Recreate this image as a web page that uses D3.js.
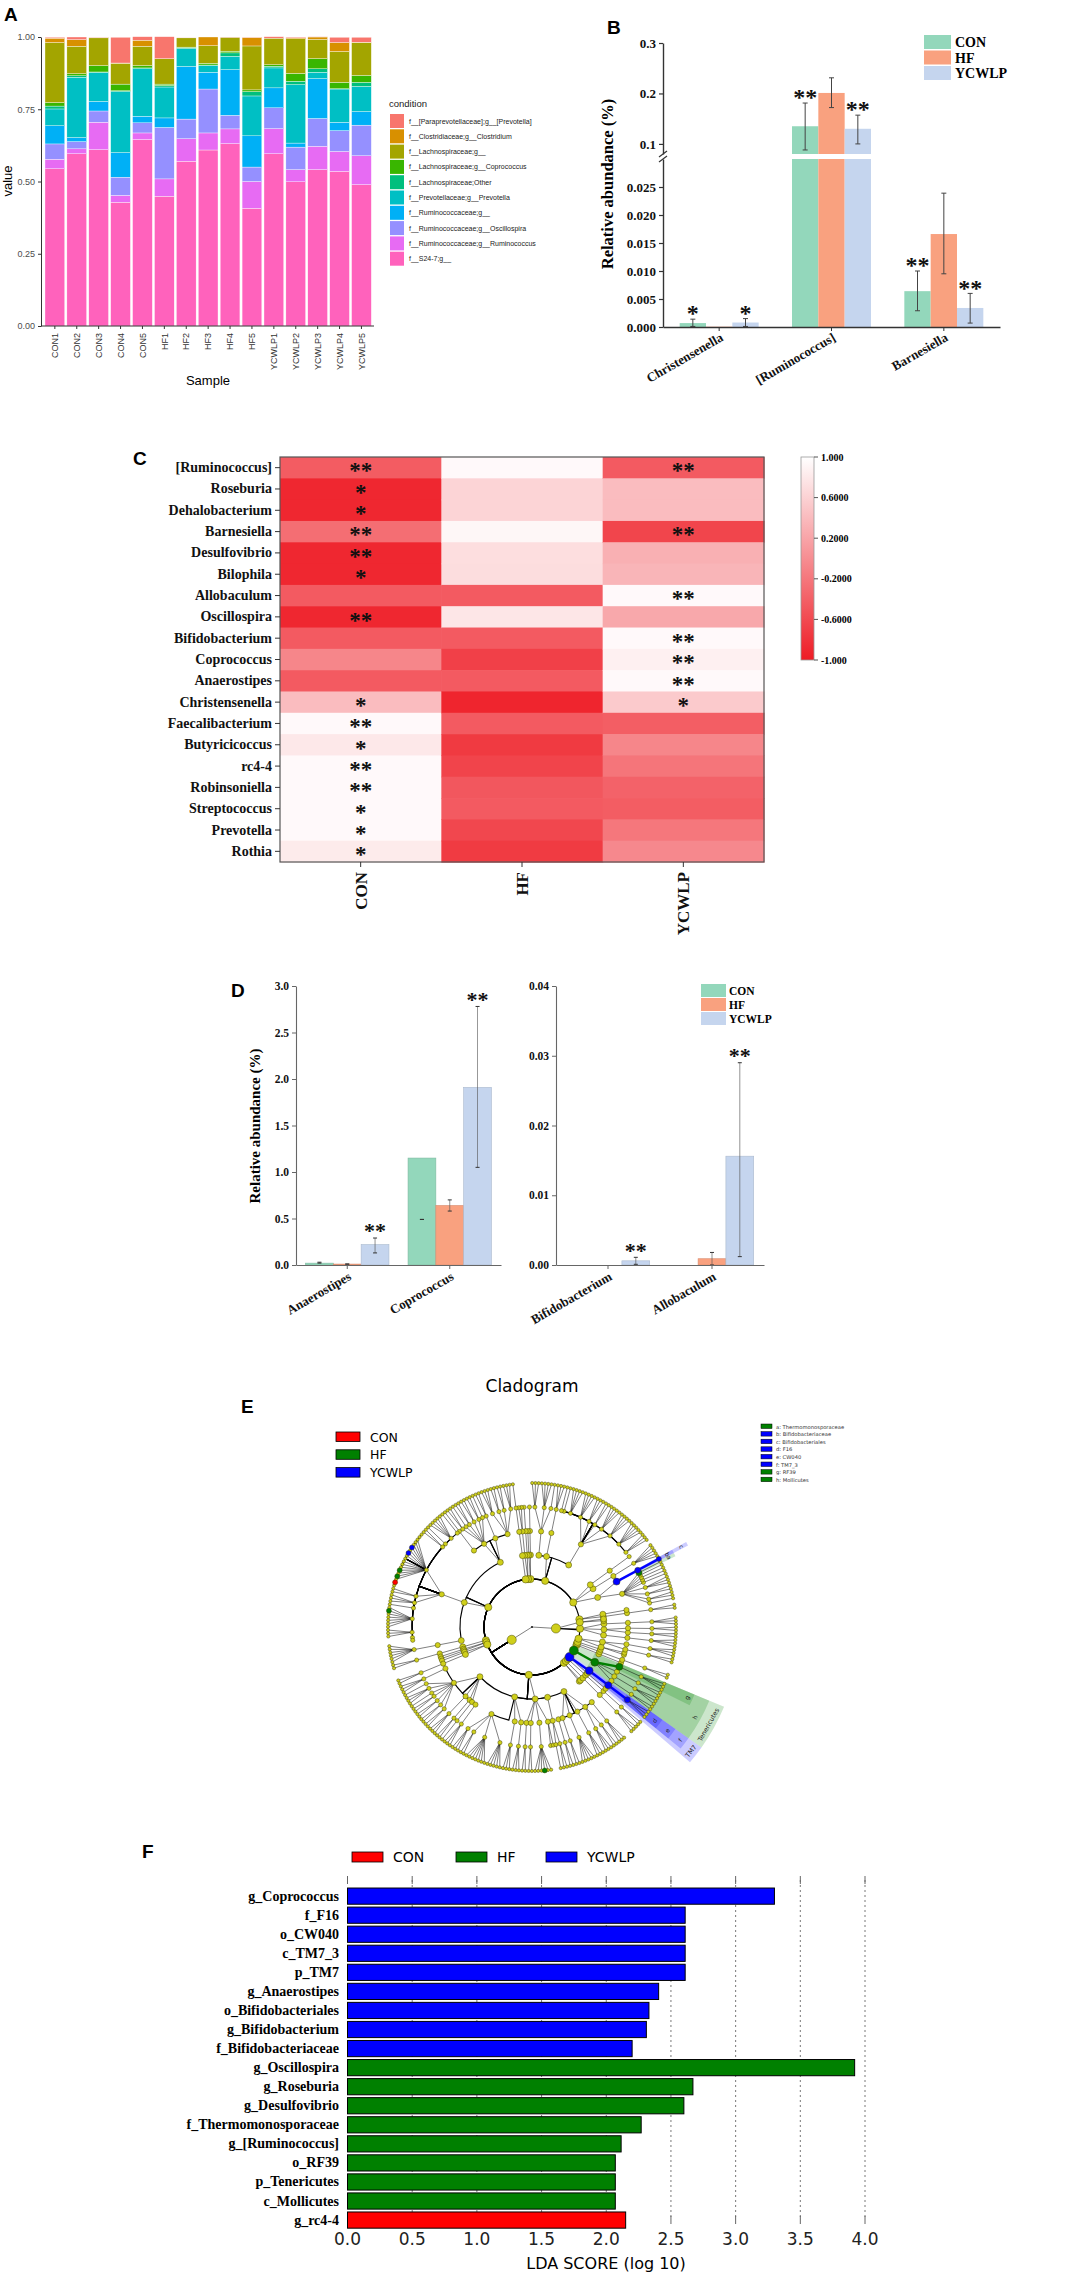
<!DOCTYPE html>
<html>
<head>
<meta charset="utf-8">
<script src="https://cdn.jsdelivr.net/npm/d3@7/dist/d3.min.js"></script>
<style>
html,body{margin:0;padding:0;background:#fff;}
svg{display:block;}
</style>
</head>
<body>
<svg id="fig" width="1069" height="2273" xmlns="http://www.w3.org/2000/svg"></svg>
<script>
// ================= DATA =================
// ---- Panel A: stacked relative abundance ----
const samplesA = ["CON1","CON2","CON3","CON4","CON5","HF1","HF2","HF3","HF4","HF5","YCWLP1","YCWLP2","YCWLP3","YCWLP4","YCWLP5"];
const taxaA = ["f__[Paraprevotellaceae];g__[Prevotella]","f__Clostridiaceae;g__Clostridium","f__Lachnospiraceae;g__","f__Lachnospiraceae;g__Coprococcus","f__Lachnospiraceae;Other","f__Prevotellaceae;g__Prevotella","f__Ruminococcaceae;g__","f__Ruminococcaceae;g__Oscillospira","f__Ruminococcaceae;g__Ruminococcus","f__S24-7;g__"];
const taxaColorsA = ["#F8766D","#D89000","#A3A500","#39B600","#00BF7D","#00BFC4","#00B0F6","#9590FF","#E76BF3","#FF62BC"];
const paraprevotellaA = [0.003,0.009,0.001,0.089,0.012,0.076,0.001,0.000,0.001,0.001,0.005,0.003,0.001,0.018,0.017];
const clostridiumA    = [0.015,0.023,0.001,0.001,0.021,0.000,0.000,0.030,0.000,0.029,0.000,0.003,0.008,0.031,0.001];
const lachnoGA        = [0.208,0.095,0.096,0.072,0.067,0.088,0.032,0.061,0.048,0.152,0.092,0.120,0.067,0.107,0.114];
const coprococcusA    = [0.012,0.007,0.022,0.023,0.008,0.005,0.002,0.006,0.006,0.006,0.005,0.027,0.035,0.022,0.024];
const lachnoOtherA    = [0.010,0.005,0.002,0.003,0.003,0.005,0.003,0.002,0.012,0.015,0.006,0.012,0.012,0.001,0.014];
const prevotellaA     = [0.058,0.209,0.100,0.211,0.164,0.107,0.062,0.023,0.046,0.138,0.069,0.202,0.022,0.115,0.087];
const ruminoGA        = [0.063,0.014,0.033,0.085,0.023,0.033,0.182,0.058,0.158,0.108,0.069,0.014,0.138,0.029,0.047];
const oscillospiraA   = [0.053,0.025,0.039,0.063,0.035,0.178,0.068,0.152,0.047,0.050,0.072,0.078,0.096,0.072,0.106];
const ruminococcusA   = [0.033,0.017,0.095,0.024,0.023,0.060,0.078,0.059,0.051,0.093,0.087,0.042,0.081,0.069,0.100];
const s247A           = [0.544,0.596,0.610,0.428,0.645,0.449,0.570,0.609,0.631,0.407,0.596,0.499,0.541,0.535,0.489];
const seriesA = [paraprevotellaA, clostridiumA, lachnoGA, coprococcusA, lachnoOtherA, prevotellaA, ruminoGA, oscillospiraA, ruminococcusA, s247A];
const ticksA = [0, 0.25, 0.5, 0.75, 1];

// ---- shared groups ----
const groups = ["CON","HF","YCWLP"];
const groupColors = ["#93d7bb","#f9a17f","#c5d5ee"];

// ---- Panel B ----
const generaB = ["Christensenella","[Ruminococcus]","Barnesiella"];
const meanB_CON = [0.0007, 0.135, 0.0064];
const meanB_HF  = [0.00005, 0.201, 0.0166];
const meanB_YC  = [0.0008, 0.130, 0.0034];
const lowB_CON  = [0.0001, 0.088, 0.0029];
const highB_CON = [0.0014, 0.181, 0.0100];
const lowB_HF   = [0, 0.172, 0.0095];
const highB_HF  = [0, 0.231, 0.0239];
const lowB_YC   = [0.0001, 0.100, 0.0007];
const highB_YC  = [0.0015, 0.157, 0.0060];
const starsB_CON = ["*","**","**"];
const starsB_YC  = ["*","**","**"];
const ticksBlow  = [0, 0.005, 0.010, 0.015, 0.020, 0.025];
const ticksBhigh = [0.1, 0.2, 0.3];

// ---- Panel C: correlation heatmap ----
const rowsC = ["[Ruminococcus]","Roseburia","Dehalobacterium","Barnesiella","Desulfovibrio","Bilophila","Allobaculum","Oscillospira","Bifidobacterium","Coprococcus","Anaerostipes","Christensenella","Faecalibacterium","Butyricicoccus","rc4-4","Robinsoniella","Streptococcus","Prevotella","Rothia"];
const heatCON = [-0.44,-0.90,-0.90,-0.28,-0.90,-0.90,-0.45,-0.90,-0.45,-0.07,-0.45, 0.41, 0.95, 0.80, 0.95, 0.95, 0.95, 0.95, 0.82];
const heatHF  = [ 0.95, 0.62, 0.62, 0.93, 0.71, 0.70,-0.45, 0.78,-0.45,-0.68,-0.45,-0.92,-0.45,-0.74,-0.65,-0.48,-0.45,-0.62,-0.73];
const heatYC  = [-0.45, 0.41, 0.41,-0.64, 0.30, 0.35, 0.95, 0.23, 0.95, 0.87, 0.95, 0.53,-0.42,-0.07,-0.22,-0.38,-0.43,-0.20,-0.05];
const starsC_CON = ["**","*","*","**","**","*","","**","","","","*","**","*","**","**","*","*","*"];
const starsC_YC  = ["**","","","**","","","**","","**","**","**","*","","","","","","",""];
const legendTicksC = [1, 0.6, 0.2, -0.2, -0.6, -1];
const legendLabelsC = ["1.000","0.6000","0.2000","-0.2000","-0.6000","-1.000"];

// ---- Panel D ----
const generaDL = ["Anaerostipes","Coprococcus"];
const meanDL_CON = [0.02, 1.15];
const meanDL_HF  = [0.01, 0.64];
const meanDL_YC  = [0.22, 1.91];
const lowDL_CON  = [0.02, 0.49];
const highDL_CON = [0.03, 0.49];
const lowDL_HF   = [0.01, 0.58];
const highDL_HF  = [0.01, 0.70];
const lowDL_YC   = [0.13, 1.05];
const highDL_YC  = [0.29, 2.78];
const starsDL_YC = ["**","**"];
const ticksDL = [0, 0.5, 1.0, 1.5, 2.0, 2.5, 3.0];

const generaDR = ["Bifidobacterium","Allobaculum"];
const meanDR_CON = [0, 0];
const meanDR_HF  = [0, 0.0009];
const meanDR_YC  = [0.0006, 0.0156];
const lowDR_CON  = [0, 0];
const highDR_CON = [0, 0];
const lowDR_HF   = [0, 0];
const highDR_HF  = [0, 0.0018];
const lowDR_YC   = [0.0001, 0.0012];
const highDR_YC  = [0.0011, 0.029];
const starsDR_YC = ["**","**"];
const ticksDR = [0, 0.01, 0.02, 0.03, 0.04];

// ---- Panel F: LEfSe LDA ----
const ldaLabels = ["g_Coprococcus","f_F16","o_CW040","c_TM7_3","p_TM7","g_Anaerostipes","o_Bifidobacteriales","g_Bifidobacterium","f_Bifidobacteriaceae","g_Oscillospira","g_Roseburia","g_Desulfovibrio","f_Thermomonosporaceae","g_[Ruminococcus]","o_RF39","p_Tenericutes","c_Mollicutes","g_rc4-4"];
const ldaScores = [3.30, 2.61, 2.61, 2.61, 2.61, 2.405, 2.33, 2.31, 2.20, 3.92, 2.67, 2.60, 2.27, 2.115, 2.07, 2.07, 2.07, 2.15];
const ldaGroups = ["YCWLP","YCWLP","YCWLP","YCWLP","YCWLP","YCWLP","YCWLP","YCWLP","YCWLP","HF","HF","HF","HF","HF","HF","HF","HF","CON"];
const ldaTicks = [0, 0.5, 1.0, 1.5, 2.0, 2.5, 3.0, 3.5, 4.0];
const lefseColors = {CON: "#ff0000", HF: "#008000", YCWLP: "#0000ff"};

// ---- Panel E: cladogram taxonomy (number = count of unnamed child taxa) ----
const pAcidobacteria = ["p__Acidobacteria", [
  ["c__Acidobacteriia", [["o__Acidobacteriales", [["f__Koribacteraceae", 2]]]]],
  ["c__Solibacteres", 1]
]];
const pActinobacteria = ["p__Actinobacteria", [
  ["c__Actinobacteria", [
    ["o__Actinomycetales", [
      ["f__Actinomycetaceae", 1], ["f__Corynebacteriaceae", 2], ["f__Microbacteriaceae", 2],
      ["f__Micrococcaceae", 3], ["f__Nocardioidaceae", 1], ["f__Propionibacteriaceae", 1],
      ["f__Pseudonocardiaceae", 1], ["f__Streptomycetaceae", 1], ["f__Thermomonosporaceae", 1]
    ]],
    ["o__Bifidobacteriales", [["f__Bifidobacteriaceae", ["g__Bifidobacterium"]]]]
  ]],
  ["c__Coriobacteriia", [["o__Coriobacteriales", [["f__Coriobacteriaceae", 5]]]]],
  ["c__Thermoleophilia", [["o__Solirubrobacterales", 1]]]
]];
const pBacteroidetes = ["p__Bacteroidetes", [
  ["c__Bacteroidia", [["o__Bacteroidales", [
    ["f__Bacteroidaceae", 3], ["f__Porphyromonadaceae", 5], ["f__Prevotellaceae", 4], ["f__Rikenellaceae", 4],
    ["f__S24-7", 2], ["f__[Barnesiellaceae]", 3], ["f__[Odoribacteraceae]", 4], ["f__[Paraprevotellaceae]", 4],
    ["f__RF16", 1], ["f__BS11", 1]
  ]]]],
  ["c__Cytophagia", [["o__Cytophagales", [["f__Cytophagaceae", 3]]]]],
  ["c__Flavobacteriia", [["o__Flavobacteriales", [["f__Cryomorphaceae", 1], ["f__Flavobacteriaceae", 4], ["f__[Weeksellaceae]", 3]]]]]
]];
const pChloroflexi = ["p__Chloroflexi", [["c__Anaerolineae", [["o__Anaerolineales", 1]]], ["c__Thermomicrobia", 1]]];
const pCyanobacteria = ["p__Cyanobacteria", [["c__4C0d-2", [["o__YS2", 1]]], ["c__Chloroplast", [["o__Streptophyta", 2]]]]];
const pDeferribacteres = ["p__Deferribacteres", [["c__Deferribacteres", [["o__Deferribacterales", [["f__Deferribacteraceae", 1]]]]]]];
const pFirmicutes = ["p__Firmicutes", [
  ["c__Bacilli", [
    ["o__Bacillales", [["f__Bacillaceae", 3], ["f__Paenibacillaceae", 2], ["f__Planococcaceae", 2], ["f__Staphylococcaceae", 3]]],
    ["o__Gemellales", [["f__Gemellaceae", 2]]],
    ["o__Lactobacillales", [["f__Aerococcaceae", 1], ["f__Carnobacteriaceae", 2], ["f__Enterococcaceae", 2], ["f__Lactobacillaceae", 2], ["f__Leuconostocaceae", 1], ["f__Streptococcaceae", 2]]],
    ["o__Turicibacterales", [["f__Turicibacteraceae", 1]]]
  ]],
  ["c__Clostridia", [["o__Clostridiales", [
    ["f__Christensenellaceae", 1], ["f__Clostridiaceae", 5], ["f__Dehalobacteriaceae", 1], ["f__Eubacteriaceae", 2],
    ["f__Lachnospiraceae", [5, "g__Anaerostipes", 1, "g__Coprococcus", 5, "g__Roseburia", 1, "g__[Ruminococcus]", 1, "g__rc4-4", 1]],
    ["f__Mogibacteriaceae", 2], ["f__Peptococcaceae", 3], ["f__Peptostreptococcaceae", 1],
    ["f__Ruminococcaceae", [1, "g__Oscillospira", 5]],
    ["f__Veillonellaceae", 3], 2
  ]]]],
  ["c__Erysipelotrichi", [["o__Erysipelotrichales", [["f__Erysipelotrichaceae", 6]]]]]
]];
const pFusobacteria = ["p__Fusobacteria", [["c__Fusobacteriia", [["o__Fusobacteriales", [["f__Fusobacteriaceae", 2]]]]]]];
const pGemmatimonadetes = ["p__Gemmatimonadetes", [["c__Gemm-1", 1], ["c__Gemmatimonadetes", 1]]];
const pPlanctomycetes = ["p__Planctomycetes", [["c__Phycisphaerae", 1], ["c__Planctomycetia", [["o__Pirellulales", [["f__Pirellulaceae", 2]]]]]]];
const pProteobacteria = ["p__Proteobacteria", [
  ["c__Alphaproteobacteria", [
    ["o__Caulobacterales", [["f__Caulobacteraceae", 3]]],
    ["o__Rhizobiales", [["f__Aurantimonadaceae", 1], ["f__Bradyrhizobiaceae", 3], ["f__Brucellaceae", 1], ["f__Hyphomicrobiaceae", 2], ["f__Methylobacteriaceae", 2], ["f__Phyllobacteriaceae", 2], ["f__Rhizobiaceae", 2]]],
    ["o__Rhodobacterales", [["f__Rhodobacteraceae", 3]]],
    ["o__Rhodospirillales", [["f__Acetobacteraceae", 2]]],
    ["o__Rickettsiales", [["f__mitochondria", 1]]],
    ["o__Sphingomonadales", [["f__Sphingomonadaceae", 3]]]
  ]],
  ["c__Betaproteobacteria", [
    ["o__Burkholderiales", [["f__Alcaligenaceae", 3], ["f__Burkholderiaceae", 2], ["f__Comamonadaceae", 7], ["f__Oxalobacteraceae", 5]]],
    ["o__Neisseriales", [["f__Neisseriaceae", 3]]],
    ["o__Rhodocyclales", [["f__Rhodocyclaceae", 3]]]
  ]],
  ["c__Deltaproteobacteria", [
    ["o__Bdellovibrionales", [["f__Bdellovibrionaceae", 2]]],
    ["o__Desulfobacterales", [["f__Desulfobulbaceae", 2]]],
    ["o__Desulfovibrionales", [["f__Desulfovibrionaceae", [3, "g__Desulfovibrio", 2]]]],
    ["o__Myxococcales", 2]
  ]],
  ["c__Epsilonproteobacteria", [["o__Campylobacterales", [["f__Campylobacteraceae", 1], ["f__Helicobacteraceae", 2]]]]],
  ["c__Gammaproteobacteria", [
    ["o__Aeromonadales", [["f__Aeromonadaceae", 2]]],
    ["o__Alteromonadales", [["f__Shewanellaceae", 2]]],
    ["o__Enterobacteriales", [["f__Enterobacteriaceae", 5]]],
    ["o__Pasteurellales", [["f__Pasteurellaceae", 3]]],
    ["o__Pseudomonadales", [["f__Moraxellaceae", 3], ["f__Pseudomonadaceae", 2]]],
    ["o__Xanthomonadales", [["f__Xanthomonadaceae", 3]]]
  ]]
]];
const pSR1 = ["p__SR1", 2];
const pSpirochaetes = ["p__Spirochaetes", [["c__Spirochaetes", [["o__Spirochaetales", [["f__Spirochaetaceae", 3]]]]]]];
const pSynergistetes = ["p__Synergistetes", [["c__Synergistia", [["o__Synergistales", [["f__Synergistaceae", 2]]]]]]];
const pTM7 = ["p__TM7", [["c__TM7-1", 1], ["c__TM7_3", [["o__CW040", [["f__F16", 3]]]]]]];
const pTenericutes = ["p__Tenericutes", [["c__Mollicutes", [
  ["o__Acholeplasmatales", [["f__Acholeplasmataceae", 2]]],
  ["o__Anaeroplasmatales", [["f__Anaeroplasmataceae", 3]]],
  ["o__Mycoplasmatales", [["f__Mycoplasmataceae", 2]]],
  ["o__RF39", [["f__", 3]]]
]]]];
const pThermi = ["p__Thermi", [["c__Deinococci", 1]]];
const pVerrucomicrobia = ["p__Verrucomicrobia", [["c__Verrucomicrobiae", [["o__Verrucomicrobiales", [["f__Verrucomicrobiaceae", 2]]]]]]];
const pWPS2 = ["p__WPS-2", 1];
const kArchaea = ["k__Archaea", [
  ["p__Crenarchaeota", [["c__MCG", 2], ["c__Thaumarchaeota", [["o__Cenarchaeales", [["f__Cenarchaeaceae", 2]]], ["o__Nitrososphaerales", [["f__Nitrososphaeraceae", 3]]]]]]],
  ["p__Euryarchaeota", [
    ["c__Methanobacteria", [["o__Methanobacteriales", [["f__Methanobacteriaceae", 3]]]]],
    ["c__Methanomicrobia", [["o__Methanomicrobiales", [["f__Methanoregulaceae", 2]]], ["o__Methanosarcinales", [["f__Methanosarcinaceae", 2]]]]],
    ["c__Thermoplasmata", [["o__E2", [["f__", 3]]]]]
  ]],
  ["p__[Parvarchaeota]", 2]
]];
const kBacteria = ["k__Bacteria", [pAcidobacteria, pActinobacteria, pBacteroidetes, pChloroflexi, pCyanobacteria, pDeferribacteres, pFirmicutes, pFusobacteria, pGemmatimonadetes, pPlanctomycetes, pProteobacteria, pSR1, pSpirochaetes, pSynergistetes, pTM7, pTenericutes, pThermi, pVerrucomicrobia, pWPS2]];
const cladeTree = ["Root", [kBacteria, kArchaea]];
const cladeKeyLetters = ["a","b","c","d","e","f","g","h"];
const cladeKeyTaxa = ["f__Thermomonosporaceae","f__Bifidobacteriaceae","o__Bifidobacteriales","f__F16","o__CW040","c__TM7_3","o__RF39","c__Mollicutes"];
const cladeKeyNames = ["Thermomonosporaceae","Bifidobacteriaceae","Bifidobacteriales","F16","CW040","TM7_3","RF39","Mollicutes"];

// ================= DRAWING =================
const svg = d3.select("#fig");
const SERIF = "'Liberation Serif','Times New Roman',serif";
const SANS = "'Liberation Sans',Arial,sans-serif";
const DJ = "'DejaVu Sans',sans-serif";

function panelLabel(t, x, y) {
  svg.append("text").attr("x", x).attr("y", y).attr("font-family", SANS)
    .attr("font-weight", "bold").attr("font-size", 19).attr("fill", "#000").text(t);
}
function star(g, x, yc, txt, fs) {
  if (!txt) return;
  g.append("text").attr("x", x).attr("y", yc + fs * 0.47).attr("text-anchor", "middle")
    .attr("font-family", SERIF).attr("font-weight", "bold").attr("font-size", fs).attr("fill", "#111").text(txt);
}

// ---------- Panel A ----------
(function () {
  const g = svg.append("g");
  const x = d3.scaleBand().domain(samplesA).range([43.9, 372.4]).paddingInner(0.1).paddingOuter(0.05);
  const y = d3.scaleLinear().domain([0, 1]).range([326, 37]);
  const rows = samplesA.map((s, i) => {
    const o = {sample: s};
    taxaA.forEach((t, k) => { o[t] = seriesA[k][i]; });
    return o;
  });
  const keys = taxaA.slice().reverse();
  const stack = d3.stack().keys(keys)(rows);
  const color = d3.scaleOrdinal().domain(taxaA).range(taxaColorsA);
  g.selectAll("g.layer").data(stack).enter().append("g").attr("fill", d => color(d.key))
    .selectAll("rect").data(d => d).enter().append("rect")
    .attr("x", d => x(d.data.sample)).attr("width", x.bandwidth())
    .attr("y", d => y(d[1])).attr("height", d => Math.max(0, y(d[0]) - y(d[1])))
    .attr("stroke", "#fff").attr("stroke-width", 0.35);
  const ax = g.append("g").attr("transform", "translate(41,0)")
    .call(d3.axisLeft(y).tickValues(ticksA).tickFormat(d3.format(".2f")).tickSize(3).tickSizeOuter(0));
  ax.select(".domain").attr("stroke", "#333").attr("stroke-width", 1);
  ax.selectAll(".tick line").attr("stroke", "#333");
  ax.selectAll("text").attr("font-family", SANS).attr("font-size", 9).attr("fill", "#4d4d4d");
  const bx = g.append("g").attr("transform", "translate(0,326)")
    .call(d3.axisBottom(x).tickSize(3).tickSizeOuter(0));
  bx.select(".domain").attr("stroke", "#333");
  bx.select(".domain").attr("d", "M41,0H374");
  bx.selectAll(".tick line").attr("stroke", "#333");
  bx.selectAll("text").attr("font-family", SANS).attr("font-size", 9).attr("fill", "#333")
    .attr("text-anchor", "end").attr("dy", null).attr("y", 0)
    .attr("transform", "translate(3.2,7) rotate(-90)");
  g.append("text").attr("x", 208).attr("y", 385).attr("text-anchor", "middle")
    .attr("font-family", SANS).attr("font-size", 13).text("Sample");
  g.append("text").attr("transform", "translate(12,181) rotate(-90)").attr("text-anchor", "middle")
    .attr("font-family", SANS).attr("font-size", 13).text("value");
  // legend
  g.append("text").attr("x", 389).attr("y", 107).attr("font-family", SANS).attr("font-size", 9.5).attr("fill", "#222").text("condition");
  const lg = g.selectAll("g.lgA").data(taxaA).enter().append("g")
    .attr("transform", (d, i) => `translate(390,${114 + i * 15.3})`);
  lg.append("rect").attr("width", 14).attr("height", 14).attr("fill", d => color(d));
  lg.append("text").attr("x", 19).attr("y", 9.5).attr("font-family", SANS).attr("font-size", 7).attr("fill", "#222").text(d => d);
  panelLabel("A", 4, 21);
})();

// ---------- Panel B ----------
(function () {
  const g = svg.append("g");
  const x = d3.scaleBand().domain(generaB).range([663, 1000]);
  const xi = d3.scaleBand().domain(groups).range([-39.5, 39.5]);
  const yLow = d3.scaleLinear().domain([0, 0.03]).range([327, 159]);
  const yHigh = d3.scaleLinear().domain([0.08, 0.3]).range([154, 43]);
  const yB = v => v <= 0.03 ? yLow(v) : yHigh(v);
  const means = [meanB_CON, meanB_HF, meanB_YC];
  const lows = [lowB_CON, lowB_HF, lowB_YC];
  const highs = [highB_CON, highB_HF, highB_YC];
  groups.forEach((grp, k) => {
    generaB.forEach((gen, i) => {
      const v = means[k][i];
      const bx = x(gen) + x.bandwidth() / 2 + xi(grp);
      if (v <= 0.03) {
        g.append("rect").attr("x", bx).attr("width", xi.bandwidth()).attr("y", yLow(v)).attr("height", 327 - yLow(v)).attr("fill", groupColors[k]);
      } else {
        g.append("rect").attr("x", bx).attr("width", xi.bandwidth()).attr("y", yLow(0.03)).attr("height", 327 - yLow(0.03)).attr("fill", groupColors[k]);
        g.append("rect").attr("x", bx).attr("width", xi.bandwidth()).attr("y", yHigh(v)).attr("height", yHigh(0.08) - yHigh(v)).attr("fill", groupColors[k]);
      }
    });
  });
  groups.forEach((grp, k) => {
    generaB.forEach((gen, i) => {
      const lo = lows[k][i], hi = highs[k][i];
      if (hi <= 0) return;
      const cx = x(gen) + x.bandwidth() / 2 + xi(grp) + xi.bandwidth() / 2;
      g.append("line").attr("x1", cx).attr("x2", cx).attr("y1", yB(lo)).attr("y2", yB(hi)).attr("stroke", "#444").attr("stroke-width", 1);
      [lo, hi].forEach(v => g.append("line").attr("x1", cx - 2.5).attr("x2", cx + 2.5).attr("y1", yB(v)).attr("y2", yB(v)).attr("stroke", "#444").attr("stroke-width", 1));
    });
  });
  generaB.forEach((gen, i) => {
    const c0 = x(gen) + x.bandwidth() / 2 + xi("CON") + xi.bandwidth() / 2;
    const c2 = x(gen) + x.bandwidth() / 2 + xi("YCWLP") + xi.bandwidth() / 2;
    star(g, c0, yB(highB_CON[i]) - 9, starsB_CON[i], 24);
    star(g, c2, yB(highB_YC[i]) - 9, starsB_YC[i], 24);
  });
  const a1 = g.append("g").attr("transform", "translate(663,0)")
    .call(d3.axisLeft(yLow).tickValues(ticksBlow).tickFormat(d3.format(".3f")).tickSize(4).tickSizeOuter(0));
  const a2 = g.append("g").attr("transform", "translate(663,0)")
    .call(d3.axisLeft(yHigh).tickValues(ticksBhigh).tickFormat(d3.format(".1f")).tickSize(4).tickSizeOuter(0));
  [a1, a2].forEach(a => {
    a.select(".domain").attr("stroke", "#333").attr("stroke-width", 1.4);
    a.selectAll(".tick line").attr("stroke", "#333").attr("stroke-width", 1.2);
    a.selectAll("text").attr("font-family", SERIF).attr("font-weight", "bold").attr("font-size", 13).attr("fill", "#111");
  });
  g.append("line").attr("x1", 659).attr("x2", 667).attr("y1", 157).attr("y2", 151).attr("stroke", "#333").attr("stroke-width", 1.2);
  g.append("line").attr("x1", 659).attr("x2", 667).attr("y1", 162).attr("y2", 156).attr("stroke", "#333").attr("stroke-width", 1.2);
  const xa = g.append("g").attr("transform", "translate(0,327)")
    .call(d3.axisBottom(x).tickSize(4).tickSizeOuter(0));
  xa.select(".domain").attr("stroke", "#333").attr("stroke-width", 1.4);
  xa.selectAll(".tick line").attr("stroke", "#333");
  xa.selectAll("text").attr("font-family", SERIF).attr("font-weight", "bold").attr("font-size", 13).attr("fill", "#111")
    .attr("text-anchor", "end").attr("dy", null).attr("y", 0).attr("transform", "translate(5,13) rotate(-30)");
  g.append("text").attr("transform", "translate(613,184) rotate(-90)").attr("text-anchor", "middle")
    .attr("font-family", SERIF).attr("font-weight", "bold").attr("font-size", 16.5).text("Relative abundance (%)");
  const lg = g.selectAll("g.lgB").data(groups).enter().append("g").attr("transform", (d, i) => `translate(924,${35 + i * 15.5})`);
  lg.append("rect").attr("width", 27).attr("height", 14).attr("fill", (d, i) => groupColors[i]);
  lg.append("text").attr("x", 31).attr("y", 12).attr("font-family", SERIF).attr("font-weight", "bold").attr("font-size", 14).text(d => d);
  panelLabel("B", 607, 34);
})();

// ---------- Panel C ----------
(function () {
  const g = svg.append("g");
  const x = d3.scaleBand().domain(groups).range([280, 764]);
  const y = d3.scaleBand().domain(rowsC).range([457, 862]);
  const heatColor = d3.scaleLinear().domain([-1, 1]).range(["#ee1c25", "#ffffff"]);
  const cols = [heatCON, heatHF, heatYC];
  groups.forEach((grp, j) => {
    g.selectAll(null).data(rowsC).enter().append("rect")
      .attr("x", x(grp)).attr("y", r => y(r)).attr("width", x.bandwidth() + 0.6).attr("height", y.bandwidth() + 0.6)
      .attr("fill", (r, i) => heatColor(cols[j][i]));
  });
  g.append("rect").attr("x", 280).attr("y", 457).attr("width", 484).attr("height", 405).attr("fill", "none").attr("stroke", "#555").attr("stroke-width", 1.2);
  rowsC.forEach((r, i) => {
    const yc = y(r) + y.bandwidth() / 2;
    star(g, x("CON") + x.bandwidth() / 2, yc, starsC_CON[i], 23);
    star(g, x("YCWLP") + x.bandwidth() / 2, yc, starsC_YC[i], 23);
  });
  const ya = g.append("g").attr("transform", "translate(280,0)").call(d3.axisLeft(y).tickSize(5).tickSizeOuter(0));
  ya.select(".domain").remove();
  ya.selectAll(".tick line").attr("stroke", "#333");
  ya.selectAll("text").attr("font-family", SERIF).attr("font-weight", "bold").attr("font-size", 14).attr("fill", "#111");
  const xa = g.append("g").attr("transform", "translate(0,862)").call(d3.axisBottom(x).tickSize(5).tickSizeOuter(0));
  xa.select(".domain").remove();
  xa.selectAll(".tick line").attr("stroke", "#333");
  xa.selectAll("text").attr("font-family", SERIF).attr("font-weight", "bold").attr("font-size", 17).attr("fill", "#111")
    .attr("text-anchor", "end").attr("dy", null).attr("y", 0).attr("transform", "translate(6,10) rotate(-90)");
  const defs = svg.append("defs");
  const grad = defs.append("linearGradient").attr("id", "cbar").attr("x1", 0).attr("x2", 0).attr("y1", 0).attr("y2", 1);
  grad.append("stop").attr("offset", "0%").attr("stop-color", heatColor(1));
  grad.append("stop").attr("offset", "100%").attr("stop-color", heatColor(-1));
  const yl = d3.scaleLinear().domain([-1, 1]).range([660, 457]);
  g.append("rect").attr("x", 801).attr("y", 457).attr("width", 13).attr("height", 203).attr("fill", "url(#cbar)").attr("stroke", "#999").attr("stroke-width", 0.8);
  legendTicksC.forEach((t, i) => {
    g.append("line").attr("x1", 814).attr("x2", 818).attr("y1", yl(t)).attr("y2", yl(t)).attr("stroke", "#555");
    g.append("text").attr("x", 821).attr("y", yl(t) + 3.5).attr("font-family", SERIF).attr("font-weight", "bold").attr("font-size", 10).text(legendLabelsC[i]);
  });
  panelLabel("C", 133, 465);
})();

// ---------- Panel D ----------
function drawD(cfg) {
  const g = svg.append("g");
  const x = d3.scaleBand().domain(cfg.genera).range(cfg.xr);
  const xi = d3.scaleBand().domain(groups).range([-41.7, 41.7]);
  const y = d3.scaleLinear().domain(cfg.domain).range([1265, 986]);
  groups.forEach((grp, k) => {
    cfg.genera.forEach((gen, i) => {
      const v = cfg.means[k][i];
      if (v <= 0) return;
      g.append("rect").attr("x", x(gen) + x.bandwidth() / 2 + xi(grp)).attr("width", xi.bandwidth())
        .attr("y", y(v)).attr("height", 1265 - y(v)).attr("fill", groupColors[k])
        .attr("stroke", d3.color(groupColors[k]).darker(0.4)).attr("stroke-width", 0.6);
    });
  });
  groups.forEach((grp, k) => {
    cfg.genera.forEach((gen, i) => {
      const lo = cfg.lows[k][i], hi = cfg.highs[k][i];
      if (hi <= 0) return;
      const cx = x(gen) + x.bandwidth() / 2 + xi(grp) + xi.bandwidth() / 2;
      g.append("line").attr("x1", cx).attr("x2", cx).attr("y1", y(lo)).attr("y2", y(hi)).attr("stroke", "#555").attr("stroke-width", 0.9).attr("opacity", 0.7);
      [lo, hi].forEach(v => g.append("line").attr("x1", cx - 2).attr("x2", cx + 2).attr("y1", y(v)).attr("y2", y(v)).attr("stroke", "#333").attr("stroke-width", 1));
    });
  });
  cfg.genera.forEach((gen, i) => {
    const cx = x(gen) + x.bandwidth() / 2 + xi("YCWLP") + xi.bandwidth() / 2;
    star(g, cx, y(cfg.highs[2][i]) - 10, cfg.stars[i], 22);
  });
  const ya = g.append("g").attr("transform", `translate(${cfg.xr[0]},0)`)
    .call(d3.axisLeft(y).tickValues(cfg.ticks).tickFormat(d3.format(cfg.fmt)).tickSize(4).tickSizeOuter(0));
  ya.select(".domain").attr("stroke", "#666").attr("stroke-width", 1.1);
  ya.selectAll(".tick line").attr("stroke", "#666");
  ya.selectAll("text").attr("font-family", SERIF).attr("font-weight", "bold").attr("font-size", 11.5).attr("fill", "#111");
  const xa = g.append("g").attr("transform", "translate(0,1265)").call(d3.axisBottom(x).tickSize(4).tickSizeOuter(0));
  xa.select(".domain").attr("stroke", "#666").attr("stroke-width", 1.1);
  xa.selectAll(".tick line").attr("stroke", "#666");
  xa.selectAll("text").attr("font-family", SERIF).attr("font-weight", "bold").attr("font-size", 13).attr("fill", "#111")
    .attr("text-anchor", "end").attr("dy", null).attr("y", 0).attr("transform", "translate(5,14) rotate(-30)");
}
drawD({genera: generaDL, xr: [296, 501], domain: [0, 3], ticks: ticksDL, fmt: ".1f",
  means: [meanDL_CON, meanDL_HF, meanDL_YC], lows: [lowDL_CON, lowDL_HF, lowDL_YC], highs: [highDL_CON, highDL_HF, highDL_YC], stars: starsDL_YC});
drawD({genera: generaDR, xr: [556, 764], domain: [0, 0.04], ticks: ticksDR, fmt: ".2f",
  means: [meanDR_CON, meanDR_HF, meanDR_YC], lows: [lowDR_CON, lowDR_HF, lowDR_YC], highs: [highDR_CON, highDR_HF, highDR_YC], stars: starsDR_YC});
(function () {
  const g = svg.append("g");
  g.append("text").attr("transform", "translate(260,1126) rotate(-90)").attr("text-anchor", "middle")
    .attr("font-family", SERIF).attr("font-weight", "bold").attr("font-size", 15).text("Relative abundance (%)");
  const lg = g.selectAll("g.lgD").data(groups).enter().append("g").attr("transform", (d, i) => `translate(701,${984 + i * 14})`);
  lg.append("rect").attr("width", 25).attr("height", 13).attr("fill", (d, i) => groupColors[i]);
  lg.append("text").attr("x", 28).attr("y", 10.5).attr("font-family", SERIF).attr("font-weight", "bold").attr("font-size", 11.5).text(d => d);
  panelLabel("D", 231, 997);
})();

// ---------- Panel E: cladogram ----------
(function () {
  function buildNode(spec) {
    if (typeof spec === "string") return {name: spec};
    const node = {name: spec[0]};
    const kids = spec[1];
    if (kids !== undefined) {
      const arr = typeof kids === "number" ? [kids] : kids;
      node.children = [];
      arr.forEach(k => {
        if (typeof k === "number") { for (let i = 0; i < k; i++) node.children.push({name: ""}); }
        else node.children.push(buildNode(k));
      });
    }
    return node;
  }
  const hlMap = new Map(ldaLabels.map((l, i) => [l.replace(/^([a-z])_/, "$1__"), lefseColors[ldaGroups[i]]]));
  const hl = d => hlMap.get(d.data.name);
  const hlEdge = l => (hl(l.source) && hl(l.target)) ? hl(l.target) : null;
  const cx = 532, cy = 1627, RSTEP = 24, THETA0 = 7;
  const root = d3.hierarchy(buildNode(cladeTree));
  const nLeaf = root.leaves().length;
  const sDeg = 360 / nLeaf;
  d3.cluster().size([360, 1]).separation(() => 1)(root);
  const phi = d => -(THETA0 + d.x) * Math.PI / 180;
  const rad = d => d.depth * RSTEP;
  const P = (a, r) => [cx + r * Math.cos(a), cy + r * Math.sin(a)];
  const g = svg.append("g");

  // shaded clades
  const arcGen = d3.arc();
  const wedgeNodes = root.descendants().filter(d => hl(d) && d.depth >= 2 && d.depth <= 5).sort((a, b) => a.depth - b.depth);
  const wg = g.append("g").attr("transform", `translate(${cx},${cy})`);
  const labelData = [];
  wedgeNodes.forEach(d => {
    const lv = d.leaves();
    const tMin = THETA0 + d3.min(lv, l => l.x) - sDeg / 2;
    const tMax = THETA0 + d3.max(lv, l => l.x) + sDeg / 2;
    const rOut = 144 + 16 * (6 - d.depth);
    wg.append("path").attr("d", arcGen({innerRadius: rad(d) - 4, outerRadius: rOut,
      startAngle: (90 - tMax) * Math.PI / 180, endAngle: (90 - tMin) * Math.PI / 180}))
      .attr("fill", hl(d)).attr("fill-opacity", 0.2);
    const k = cladeKeyTaxa.indexOf(d.data.name);
    const txt = d.depth === 2 ? d.data.name.slice(3) : (k >= 0 ? cladeKeyLetters[k] : "");
    labelData.push({t: (tMin + tMax) / 2, r: rOut - 6, txt, fs: d.depth === 2 ? 6.5 : 6});
  });

  // edges
  const links = root.links().sort((a, b) => (hlEdge(a) ? 1 : 0) - (hlEdge(b) ? 1 : 0));
  const isStraight = l => l.source.depth === 0 || Math.abs(l.source.x - l.target.x) < 10;
  function edgePath(l) {
    const p = l.source, c = l.target;
    const ap = phi(p), ac = phi(c), rp = rad(p), rc = rad(c);
    if (isStraight(l)) return `M${P(ap, rp)}L${P(ac, rc)}`;
    const sweep = ac > ap ? 1 : 0;
    const large = Math.abs(ac - ap) > Math.PI ? 1 : 0;
    return `M${P(ap, rp)}L${P(ap, rc)}A${rc},${rc} 0 ${large} ${sweep} ${P(ac, rc)}`;
  }
  g.append("g").selectAll("path").data(links).enter().append("path")
    .attr("d", edgePath).attr("fill", "none")
    .attr("stroke", l => hlEdge(l) || "#000")
    .attr("stroke-width", l => hlEdge(l) ? 2.4 : (isStraight(l) ? 0.5 : 1.15));

  // nodes
  const nodeR = [1.1, 4.6, 3.6, 3.0, 2.6, 2.1, 1.6];
  const nodes = root.descendants().sort((a, b) => (hl(a) ? 1 : 0) - (hl(b) ? 1 : 0));
  g.append("g").selectAll("circle").data(nodes).enter().append("circle")
    .attr("cx", d => P(phi(d), rad(d))[0]).attr("cy", d => P(phi(d), rad(d))[1])
    .attr("r", d => nodeR[d.depth] + (hl(d) ? 0.9 : 0))
    .attr("fill", d => d.depth === 0 ? "#222" : (hl(d) || "#cfcf1c"))
    .attr("stroke", d => d.depth === 0 ? "none" : "#3a3a00").attr("stroke-width", 0.45);

  // wedge labels
  labelData.forEach(L => {
    const a = -L.t;
    const pos = P(a * Math.PI / 180, L.r);
    let rot = a + 90;
    while (rot > 90) rot -= 180;
    while (rot < -90) rot += 180;
    g.append("text").attr("transform", `translate(${pos[0]},${pos[1]}) rotate(${rot})`)
      .attr("text-anchor", "middle").attr("dominant-baseline", "central")
      .attr("font-family", DJ).attr("font-size", L.fs).attr("fill", "#222").text(L.txt);
  });

  // title + legends
  g.append("text").attr("x", 532).attr("y", 1392).attr("text-anchor", "middle").attr("font-family", DJ).attr("font-size", 17).text("Cladogram");
  const lg = g.selectAll("g.lgE").data(groups).enter().append("g").attr("transform", (d, i) => `translate(336,${1432 + i * 17.8})`);
  lg.append("rect").attr("width", 24).attr("height", 9.5).attr("fill", d => lefseColors[d]).attr("stroke", "#000").attr("stroke-width", 0.8);
  lg.append("text").attr("x", 34).attr("y", 9.5).attr("font-family", DJ).attr("font-size", 12.5).text(d => d);
  const lk = g.selectAll("g.lgK").data(cladeKeyTaxa).enter().append("g").attr("transform", (d, i) => `translate(761,${1424 + i * 7.6})`);
  lk.append("rect").attr("width", 11).attr("height", 4.5).attr("fill", d => hlMap.get(d)).attr("stroke", "#000").attr("stroke-width", 0.5);
  lk.append("text").attr("x", 15).attr("y", 4.5).attr("font-family", DJ).attr("font-size", 5.2).attr("fill", "#333")
    .text((d, i) => `${cladeKeyLetters[i]}: ${cladeKeyNames[i]}`);
  panelLabel("E", 241, 1413);
})();

// ---------- Panel F ----------
(function () {
  const g = svg.append("g");
  const x = d3.scaleLinear().domain([0, 4]).range([347.5, 865]);
  const y = d3.scaleBand().domain(ldaLabels).range([1886.6, 2229.6]).paddingInner(0.15).paddingOuter(0.075);
  ldaTicks.forEach(t => {
    if (t > 0) g.append("line").attr("x1", x(t)).attr("x2", x(t)).attr("y1", 1880).attr("y2", 2220).attr("stroke", "#555").attr("stroke-width", 0.8).attr("stroke-dasharray", "2,3");
    g.append("line").attr("x1", x(t)).attr("x2", x(t)).attr("y1", 1876).attr("y2", 1884).attr("stroke", "#666").attr("stroke-width", 1);
    g.append("line").attr("x1", x(t)).attr("x2", x(t)).attr("y1", 2216).attr("y2", 2224).attr("stroke", "#666").attr("stroke-width", 1);
  });
  g.selectAll("rect.bar").data(ldaLabels).enter().append("rect")
    .attr("x", x(0)).attr("y", d => y(d)).attr("height", y.bandwidth())
    .attr("width", (d, i) => x(ldaScores[i]) - x(0))
    .attr("fill", (d, i) => lefseColors[ldaGroups[i]]).attr("stroke", "#000").attr("stroke-width", 1);
  g.selectAll("text.lab").data(ldaLabels).enter().append("text")
    .attr("x", 339).attr("y", d => y(d) + y.bandwidth() / 2 + 4.5).attr("text-anchor", "end")
    .attr("font-family", SERIF).attr("font-weight", "bold").attr("font-size", 14).text(d => d);
  g.selectAll("text.tick").data(ldaTicks).enter().append("text")
    .attr("x", d => x(d)).attr("y", 2245).attr("text-anchor", "middle")
    .attr("font-family", DJ).attr("font-size", 17).attr("fill", "#222").text(d => d3.format(".1f")(d));
  g.append("text").attr("x", 606).attr("y", 2269).attr("text-anchor", "middle").attr("font-family", DJ).attr("font-size", 16).text("LDA SCORE (log 10)");
  const lgx = [352, 456, 546];
  groups.forEach((grp, i) => {
    g.append("rect").attr("x", lgx[i]).attr("y", 1852).attr("width", 31).attr("height", 10).attr("fill", lefseColors[grp]).attr("stroke", "#000").attr("stroke-width", 0.8);
    g.append("text").attr("x", lgx[i] + 41).attr("y", 1862).attr("font-family", DJ).attr("font-size", 14).text(grp);
  });
  panelLabel("F", 142, 1858);
})();
</script>
</body>
</html>
